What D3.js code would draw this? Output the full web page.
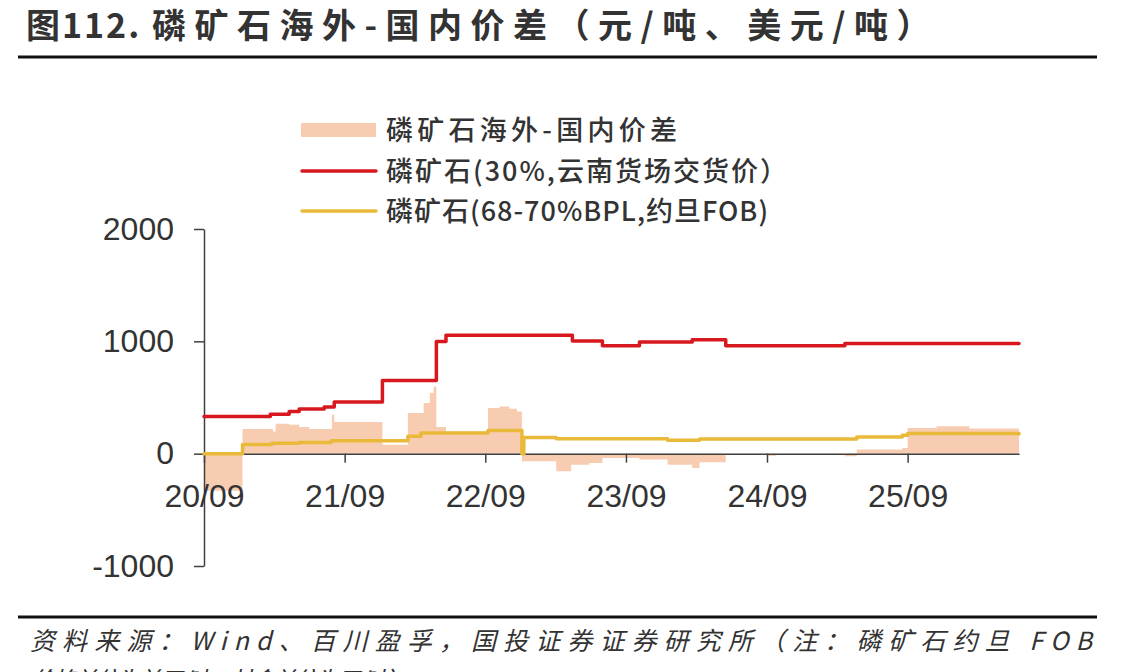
<!DOCTYPE html>
<html>
<head>
<meta charset="utf-8">
<script src="https://cdn.jsdelivr.net/npm/d3@7"></script>
<style>
  body { margin: 0; background: #fff; }
  svg { display: block; }
</style>
</head>
<body>
<svg id="chart" width="1147" height="672"></svg>
<script>
// DATA (step points)
var spreadDates = ["2020-09-01","2020-12-10","2021-02-27","2021-03-06","2021-04-10","2021-05-06","2021-06-01",
    "2021-07-30","2021-08-05","2021-12-08","2022-02-12","2022-03-25","2022-04-10","2022-04-20","2022-04-27",
    "2022-05-22","2022-09-08","2022-10-08","2022-11-02","2022-11-22","2022-12-05","2023-03-04","2023-04-12",
    "2023-05-28","2023-07-02","2023-10-06","2023-12-18","2024-02-20","2024-03-10","2024-05-17","2024-09-01",
    "2024-09-25","2025-02-10","2025-03-22","2025-04-22","2025-08-18","2025-09-01","2025-11-15","2026-02-08",
    "2026-06-17"];
var spreadValues = [-330, 219, 198, 267, 258, 237, 219,
    347, 281, 80, 361, 450, 540, 598, 237,
    198, 406, 420, 400, 376, -68, -157, -98,
    -83, -38, -53, -98, -127, -77, -5, -18,
    -3, -8, -24, 36, 50, 228, 243, 225,
    213];

var redDates = ["2020-09-01","2021-02-20","2021-04-10","2021-05-06","2021-07-10","2021-08-05","2021-12-08",
    "2022-04-27","2022-05-22","2023-04-15","2023-07-02","2023-10-06","2024-02-20","2024-05-17","2025-03-22",
    "2026-06-17"];
var redValues = [330, 352, 376, 397, 415, 459, 652,
    998, 1055, 1004, 960, 993, 1013, 960, 980,
    980];

var yellowDates = ["2020-09-01","2020-12-10","2021-02-24","2021-05-06","2021-07-28","2022-02-12","2022-03-18",
    "2022-09-08","2022-12-05","2022-12-10","2023-03-04","2023-12-18","2024-03-10","2025-04-22","2025-08-18",
    "2025-09-01","2026-06-17"];
var yellowValues = [0, 82, 92, 100, 115, 154, 184,
    207, 0, 145, 133, 119, 130, 148, 165,
    180, 175];

var yTicks = [-1000, 0, 1000, 2000];
var xTicks = ["2020-09-01","2021-09-01","2022-09-01","2023-09-01","2024-09-01","2025-09-01"];

var legendLabels = ["磷矿石海外-国内价差", "磷矿石(30%,云南货场交货价）", "磷矿石(68-70%BPL,约旦FOB)"];
var titleNum = "图112.";
var titleText = "磷矿石海外-国内价差（元/吨、美元/吨）";
var sourceText = "资料来源：Wind、百川盈孚，国投证券证券研究所（注：磷矿石约旦 FOB";
var sourceText2 = "价格单位为美元/吨，其余单位为元/吨）";

// COLORS
var RED = "#d7191f", YELLOW = "#e9b93a", PEACH = "#f8ccb1", INK = "#333333";
var CJK = "'Noto Sans CJK SC', 'Noto Sans', sans-serif";
var NUM = "'Liberation Sans', Arial, sans-serif";

var parse = d3.timeParse("%Y-%m-%d");
function zip(ds, vs) {
    return ds.map(function(d, i) { return {date: parse(d), value: vs[i]}; });
}
var spread = zip(spreadDates, spreadValues);
var red = zip(redDates, redValues);
var yellow = zip(yellowDates, yellowValues);

var svg = d3.select("#chart");

// SCALES
var x = d3.scaleTime()
    .domain([parse("2020-09-01"), parse("2026-06-17")])
    .range([204, 1019]);
var y = d3.scaleLinear()
    .domain([-1000, 2000])
    .range([566, 229]);

// TITLE + RULES
svg.append("text")
    .attr("x", 26).attr("y", 38)
    .style("font-family", CJK).style("font-size", "34px").style("font-weight", "bold")
    .style("letter-spacing", "2px")
    .style("fill", INK)
    .text(titleNum);
svg.append("text")
    .attr("x", 152).attr("y", 38)
    .style("font-family", CJK).style("font-size", "34px").style("font-weight", "bold")
    .style("letter-spacing", "8.5px")
    .style("fill", INK)
    .text(titleText);
svg.append("line").attr("x1", 18).attr("x2", 1097).attr("y1", 57).attr("y2", 57)
    .style("stroke", "#111").style("stroke-width", 3);
svg.append("line").attr("x1", 18).attr("x2", 1097).attr("y1", 617).attr("y2", 617)
    .style("stroke", "#111").style("stroke-width", 3);

// SERIES
var area = d3.area()
    .curve(d3.curveStepAfter)
    .x(function(d) { return x(d.date); })
    .y0(y(0))
    .y1(function(d) { return y(d.value); });
var line = d3.line()
    .curve(d3.curveStepAfter)
    .x(function(d) { return x(d.date); })
    .y(function(d) { return y(d.value); });

svg.append("path").datum(spread)
    .attr("d", area)
    .style("fill", PEACH);

// AXES
var gy = svg.append("g")
    .attr("transform", "translate(204,0)")
    .call(d3.axisLeft(y).tickValues(yTicks).tickFormat(function(d) { return String(d); })
        .tickSize(10).tickSizeOuter(0).tickPadding(20));
var gx = svg.append("g")
    .attr("transform", "translate(0," + y(0) + ")")
    .call(d3.axisBottom(x).tickValues(xTicks.map(parse)).tickFormat(d3.timeFormat("%y/%m"))
        .tickSize(9).tickSizeOuter(0).tickPadding(22));
[gx, gy].forEach(function(g) {
    g.selectAll("path, line").style("stroke", "#404040").style("stroke-width", 1.5);
    g.selectAll("text").style("font-family", NUM).style("font-size", "32px").style("fill", INK);
});

svg.append("path").datum(red)
    .attr("d", line)
    .style("fill", "none").style("stroke", RED).style("stroke-width", 3.5)
    .style("stroke-linecap", "round").style("stroke-linejoin", "round");
svg.append("path").datum(yellow)
    .attr("d", line)
    .style("fill", "none").style("stroke", YELLOW).style("stroke-width", 3.5)
    .style("stroke-linecap", "round").style("stroke-linejoin", "round");

// LEGEND
var legendY = [130, 171, 211];
var legendW = [291, 401, 382];
var lg = svg.append("g");
lg.append("rect").attr("x", 301).attr("y", 123).attr("width", 75).attr("height", 14)
    .style("fill", PEACH);
lg.append("line").attr("x1", 302).attr("x2", 376).attr("y1", legendY[1]).attr("y2", legendY[1])
    .style("stroke", RED).style("stroke-width", 3.5).style("stroke-linecap", "round");
lg.append("line").attr("x1", 302).attr("x2", 376).attr("y1", legendY[2]).attr("y2", legendY[2])
    .style("stroke", YELLOW).style("stroke-width", 3.5).style("stroke-linecap", "round");
lg.selectAll("text.leg").data(legendLabels).enter().append("text")
    .attr("class", "leg")
    .attr("x", 386)
    .attr("y", function(d, i) { return legendY[i]; })
    .attr("dy", "0.36em")
    .attr("textLength", function(d, i) { return legendW[i]; })
    .attr("lengthAdjust", "spacing")
    .style("font-family", CJK).style("font-size", "27px").style("font-weight", 500)
    .style("fill", INK)
    .text(function(d) { return d; });

// SOURCE
svg.append("text")
    .attr("x", 30).attr("y", 650)
    .attr("textLength", 1062).attr("lengthAdjust", "spacing")
    .style("font-family", CJK).style("font-size", "25px").style("font-style", "italic")
    .style("fill", INK)
    .text(sourceText);
svg.append("text")
    .attr("x", 30).attr("y", 690)
    .attr("textLength", 380).attr("lengthAdjust", "spacing")
    .style("font-family", CJK).style("font-size", "25px").style("font-style", "italic")
    .style("fill", INK)
    .text(sourceText2);
</script>
</body>
</html>
